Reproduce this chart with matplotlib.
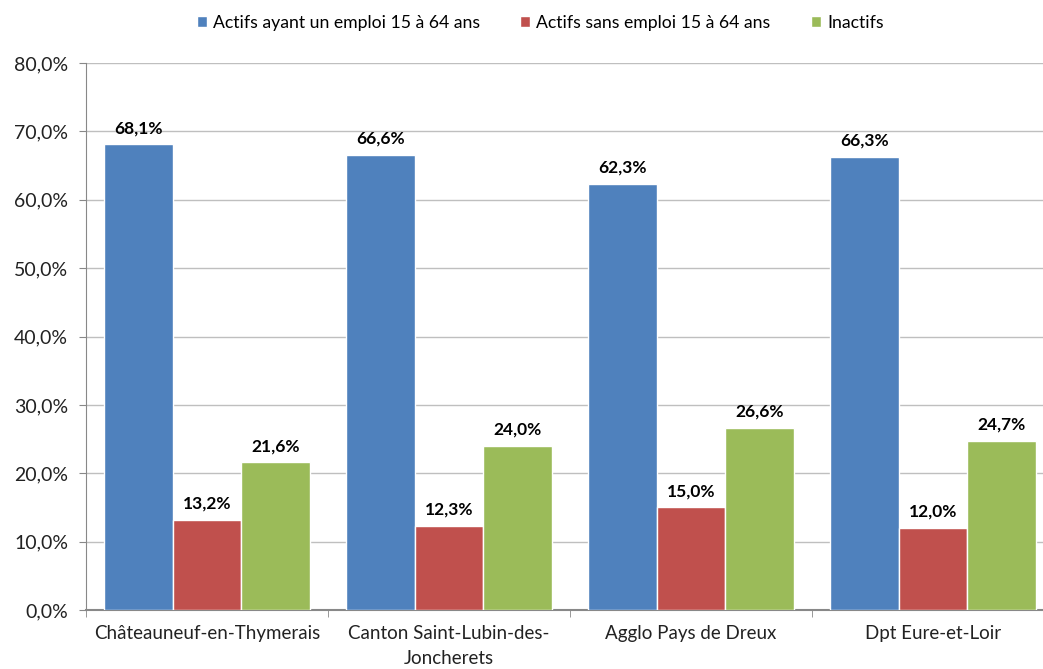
import matplotlib
matplotlib.use("Agg")
import matplotlib.pyplot as plt
import numpy as np
from matplotlib.ticker import FuncFormatter, MultipleLocator

plt.rcParams['font.family'] = ['Lato', 'DejaVu Sans']

categories = ["Châteauneuf-en-Thymerais", "Canton Saint-Lubin-des-\nJoncherets",
              "Agglo Pays de Dreux", "Dpt Eure-et-Loir"]
series_names = ["Actifs ayant un emploi 15 à 64 ans",
                "Actifs sans emploi 15 à 64 ans",
                "Inactifs"]
actifs_emploi = [68.1, 66.6, 62.3, 66.3]
actifs_sans_emploi = [13.2, 12.3, 15.0, 12.0]
inactifs = [21.6, 24.0, 26.6, 24.7]
colors = ["#4F81BD", "#C0504D", "#9BBB59"]

fig = plt.figure(figsize=(10.43, 6.69), dpi=100)
ax = fig.add_axes([0.0825, 0.0882, 0.928, 0.8176])

x = np.arange(len(categories))
w = 0.283
for i, (vals, col, name) in enumerate(zip([actifs_emploi, actifs_sans_emploi, inactifs],
                                          colors, series_names)):
    pos = x + (i - 1) * w
    ax.bar(pos, vals, width=w, color=col, edgecolor="white", linewidth=1.0,
           label=name, zorder=3)
    for p, v in zip(pos, vals):
        ax.text(p, v + 1.2, f"{v:.1f}".replace(".", ",") + "%", ha="center",
                va="bottom", fontsize=12.5, fontweight="bold", color="#000000", zorder=4)

ax.set_xlim(-0.5, len(categories) - 0.5)
ax.set_ylim(0, 80)
ax.yaxis.set_major_locator(MultipleLocator(10))
ax.yaxis.set_major_formatter(FuncFormatter(lambda v, _: f"{v:.1f}".replace(".", ",") + "%"))
ax.grid(axis="y", color="#BFBFBF", linewidth=1.0, zorder=0)

ax.set_xticks(x)
ax.set_xticklabels(categories, fontsize=13.5, color="#222222", linespacing=1.55)
ax.set_xticks(np.arange(len(categories) + 1) - 0.5, minor=True)
ax.tick_params(axis="x", which="major", length=0, pad=11)
ax.tick_params(axis="x", which="minor", length=5, color="#888888")
ax.tick_params(axis="y", length=5, color="#888888", labelsize=14, labelcolor="#222222", pad=8)

for s in ["top", "right"]:
    ax.spines[s].set_visible(False)
ax.spines["left"].set_color("#888888")
ax.spines["bottom"].set_color("#888888")
ax.spines["bottom"].set_linewidth(1.5)

fig.legend(loc="upper center", bbox_to_anchor=(0.518, 1.002), ncol=3, frameon=False,
           fontsize=12.7, handlelength=0.55, handleheight=0.55, handletextpad=0.35,
           columnspacing=2.3)

fig.savefig("out.png", dpi=100)
